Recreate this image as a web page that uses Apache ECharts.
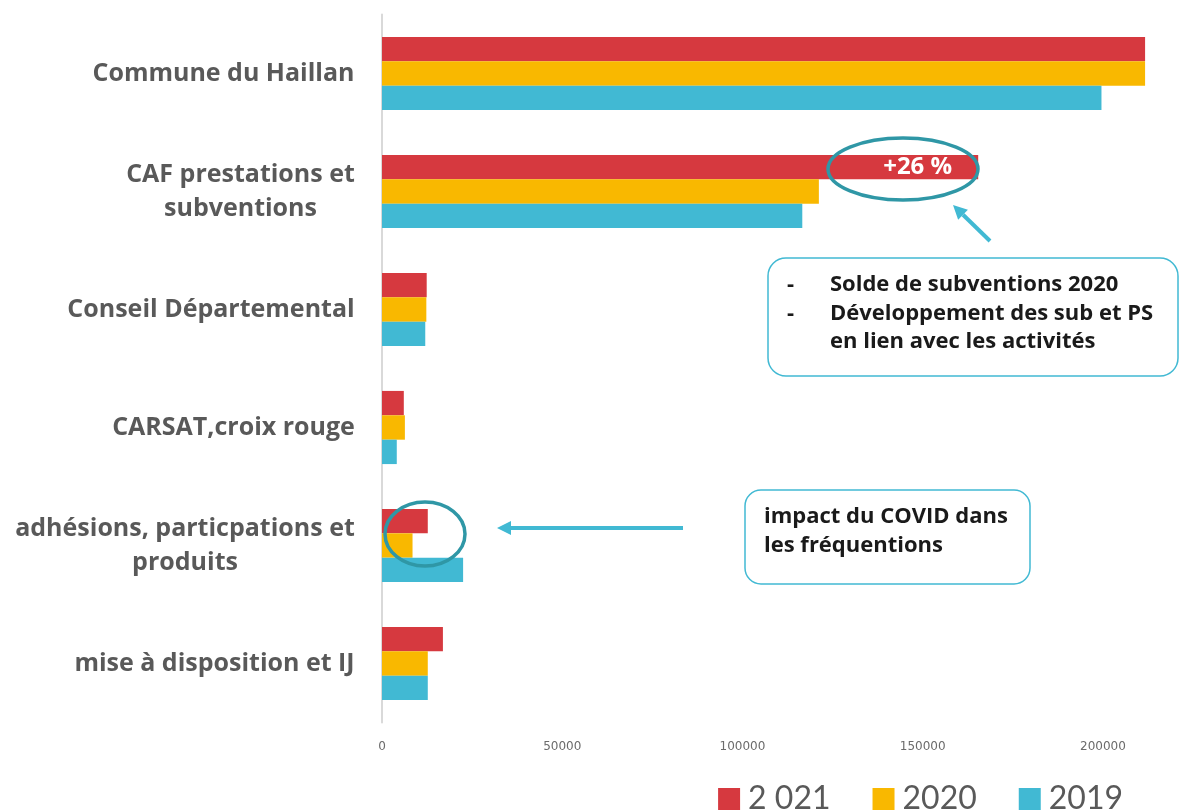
<!DOCTYPE html>
<html>
<head>
<meta charset="utf-8">
<script src="https://cdn.jsdelivr.net/npm/echarts@6/dist/echarts.min.js"></script>
<style>
  html, body { margin: 0; padding: 0; background: #fff; }
  #chart { width: 1180px; height: 810px; }
</style>
</head>
<body>
<div id="chart"></div>
<script>
// categories top to bottom
const categories = [
  "Commune du Haillan",
  "CAF prestations et\nsubventions",
  "Conseil Départemental",
  "CARSAT,croix rouge",
  "adhésions, particpations et\nproduits",
  "mise à disposition et IJ"
];
const seriesNames = ["2 021", "2020", "2019"];
const values2021 = [211700, 165400, 12400, 6050, 12700, 16900];
const values2020 = [211700, 121200, 12300, 6350, 8470, 12700];
const values2019 = [199600, 116600, 12000, 4100, 22500, 12700];
const colors = ["#d6393f", "#f9b800", "#41b9d3"];

const chart = echarts.init(document.getElementById("chart"));

// multi-line labels: lines centred between themselves, block right-aligned
const ctx = document.createElement("canvas").getContext("2d");
ctx.font = 'bold 25px "Open Sans"';
const rich = {};
categories.forEach((c, i) => {
  const w = Math.max(...c.split("\n").map(l => ctx.measureText(l).width));
  rich["c" + i] = { width: Math.ceil(w), align: "center", fontSize: 25, fontWeight: "bold",
    fontFamily: "Open Sans", color: "#595959", lineHeight: 34 };
});

const caf = values2021.map((v, i) => i === 1 ? {
  value: v,
  label: { show: true, position: "insideRight", distance: 26, formatter: "+26 %",
    color: "#fff", fontSize: 24, fontWeight: "bold", fontFamily: "Open Sans" }
} : v);

function arrow(x1, y1, x2, y2, color) {
  const a = Math.atan2(y2 - y1, x2 - x1);
  const len = 14, half = 7;
  const bx = x2 - len * Math.cos(a), by = y2 - len * Math.sin(a);
  return [
    { type: "line", shape: { x1: x1, y1: y1, x2: bx, y2: by }, style: { stroke: color, lineWidth: 4 } },
    { type: "polygon", shape: { points: [[x2, y2],
      [bx + half * Math.sin(a), by - half * Math.cos(a)],
      [bx - half * Math.sin(a), by + half * Math.cos(a)]] }, style: { fill: color } }
  ];
}

function note(x, y, text) {
  return { type: "text", x: x, y: y, style: { text: text, verticalAlign: "middle",
    fontSize: 22, fontWeight: "bold", fontFamily: "Open Sans", fill: "#1a1a1a" } };
}

chart.setOption({
  animation: false,
  grid: { left: 382, right: 5, top: 14.5, bottom: 87.5 },
  xAxis: {
    type: "value", min: 0, max: 220000, interval: 50000,
    axisLine: { show: false }, axisTick: { show: false }, splitLine: { show: false },
    axisLabel: { showMaxLabel: false, color: "#6b6b6b", fontSize: 12, margin: 18,
      fontFamily: "DejaVu Sans", formatter: v => String(v) }
  },
  yAxis: {
    type: "category", data: categories, inverse: true,
    axisLine: { show: true, lineStyle: { color: "#d9d9d9", width: 2 } },
    axisTick: { show: false },
    axisLabel: {
      margin: 27, rich: rich,
      formatter: (v, i) => v.split("\n").map(l => "{c" + i + "|" + l + "}").join("\n")
    }
  },
  legend: {
    data: seriesNames, right: 52, top: 778, icon: "rect", itemWidth: 22, itemHeight: 22,
    itemGap: 42, textStyle: { fontSize: 32, color: "#595959", fontFamily: "Lato", padding: [0, 0, 0, 3] }
  },
  series: [
    { name: seriesNames[0], type: "bar", data: caf, itemStyle: { color: colors[0] }, barGap: "0%", barCategoryGap: "38%" },
    { name: seriesNames[1], type: "bar", data: values2020, itemStyle: { color: colors[1] } },
    { name: seriesNames[2], type: "bar", data: values2019, itemStyle: { color: colors[2] } }
  ],
  graphic: [
    { type: "ellipse", shape: { cx: 903, cy: 169, rx: 75, ry: 31 },
      style: { fill: null, stroke: "#2f97a6", lineWidth: 3.5 }, z: 100 },
    ...arrow(990, 241, 953, 205, "#41b9d3"),
    { type: "rect", shape: { x: 768, y: 258, width: 410, height: 118, r: 18 },
      style: { fill: "#fff", stroke: "#41b9d3", lineWidth: 1.5 } },
    note(787, 285, "-"),
    note(787, 314, "-"),
    note(830, 285, "Solde de subventions 2020"),
    note(830, 314, "Développement des sub et PS"),
    note(830, 342, "en lien avec les activités"),
    { type: "ellipse", shape: { cx: 425, cy: 534, rx: 40, ry: 32 },
      style: { fill: null, stroke: "#2f97a6", lineWidth: 3.5 }, z: 100 },
    ...arrow(683, 528, 497, 528, "#41b9d3"),
    { type: "rect", shape: { x: 745, y: 490, width: 285, height: 94, r: 16 },
      style: { fill: "#fff", stroke: "#41b9d3", lineWidth: 1.5 } },
    note(764, 517, "impact du COVID dans"),
    note(764, 546, "les fréquentions")
  ]
});
</script>
</body>
</html>
